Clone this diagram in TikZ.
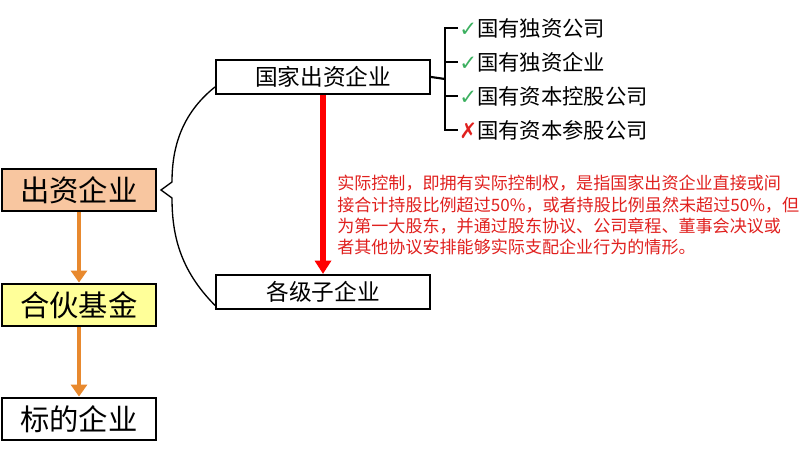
\documentclass[tikz,border=0pt]{standalone}
\usepackage{fontspec}
\setmainfont{Noto Sans CJK SC}
\newfontfamily\dejavu{DejaVu Sans}
\usetikzlibrary{arrows.meta}
\definecolor{peach}{HTML}{F8C6A0}
\definecolor{lyellow}{HTML}{FFFF99}
\definecolor{arrorange}{HTML}{E8892E}
\definecolor{okgreen}{HTML}{3CB060}
\definecolor{txtred}{HTML}{E0201E}
\begin{document}
\begin{tikzpicture}[x=0.75pt,y=-0.75pt,
  bigbox/.style={draw,line width=1.6pt,minimum width=115.5pt,minimum height=32pt,inner sep=0pt,font=\fontsize{22}{22}\selectfont},
  midbox/.style={draw,line width=1.6pt,minimum width=160.5pt,minimum height=25.5pt,inner sep=0pt,font=\fontsize{17}{17}\selectfont},
  item/.style={anchor=west,inner sep=0pt,font=\fontsize{16}{16}\selectfont},
  orarrow/.style={draw=arrorange,line width=2.6pt,-{Triangle[length=9pt,width=12pt]}}]
\useasboundingbox (0,0) rectangle (810,449);
\node[bigbox,fill=peach] (a) at (79,190) {出资企业};
\node[bigbox,fill=lyellow] (b) at (79,305) {合伙基金};
\node[bigbox,fill=white] (c) at (79,419) {标的企业};
\draw[orarrow] (a) -- (b);
\draw[orarrow] (b) -- (c);
\node[midbox] (g) at (323,77) {国家出资企业};
\node[midbox] (s) at (323,292) {各级子企业};
\draw[draw=red,line width=4pt,-{Triangle[length=10pt,width=12pt]}] (g) -- (s);
\coordinate (tip) at (161,190);
\draw[line width=1pt] (g.west) ++(0,10) .. controls (180,115) and (172,150) .. (172,182) -- (tip) -- (172,198) .. controls (172,235) and (180,270) .. ([yshift=-10pt]s.west);
\coordinate (j) at (445,79);
\draw[line width=1.6pt] (g.east) -- (j);
\draw[line width=1.6pt] (458,28) -- (445,28) -- (445,130) -- (458,130);
\draw[line width=1.6pt] (445,62) -- (458,62);
\draw[line width=1.6pt] (445,96) -- (458,96);
\node[item] (i1) at (459,28) {{\dejavu\color{okgreen}✓}国有独资公司};
\node[item] (i2) at (459,62) {{\dejavu\color{okgreen}✓}国有独资企业};
\node[item] (i3) at (459,96) {{\dejavu\color{okgreen}✓}国有资本控股公司};
\node[item] (i4) at (459,130) {{\dejavu\color{txtred}✗}国有资本参股公司};
\node[anchor=north west,inner sep=0pt,text=txtred,align=left,font=\fontsize{12.8}{16}\selectfont] (t) at (337,175) {实际控制，即拥有实际控制权，是指国家出资企业直接或间\\接合计持股比例超过50\%，或者持股比例虽然未超过50\%，但\\为第一大股东，并通过股东协议、公司章程、董事会决议或\\者其他协议安排能够实际支配企业行为的情形。};
\end{tikzpicture}
\end{document}
